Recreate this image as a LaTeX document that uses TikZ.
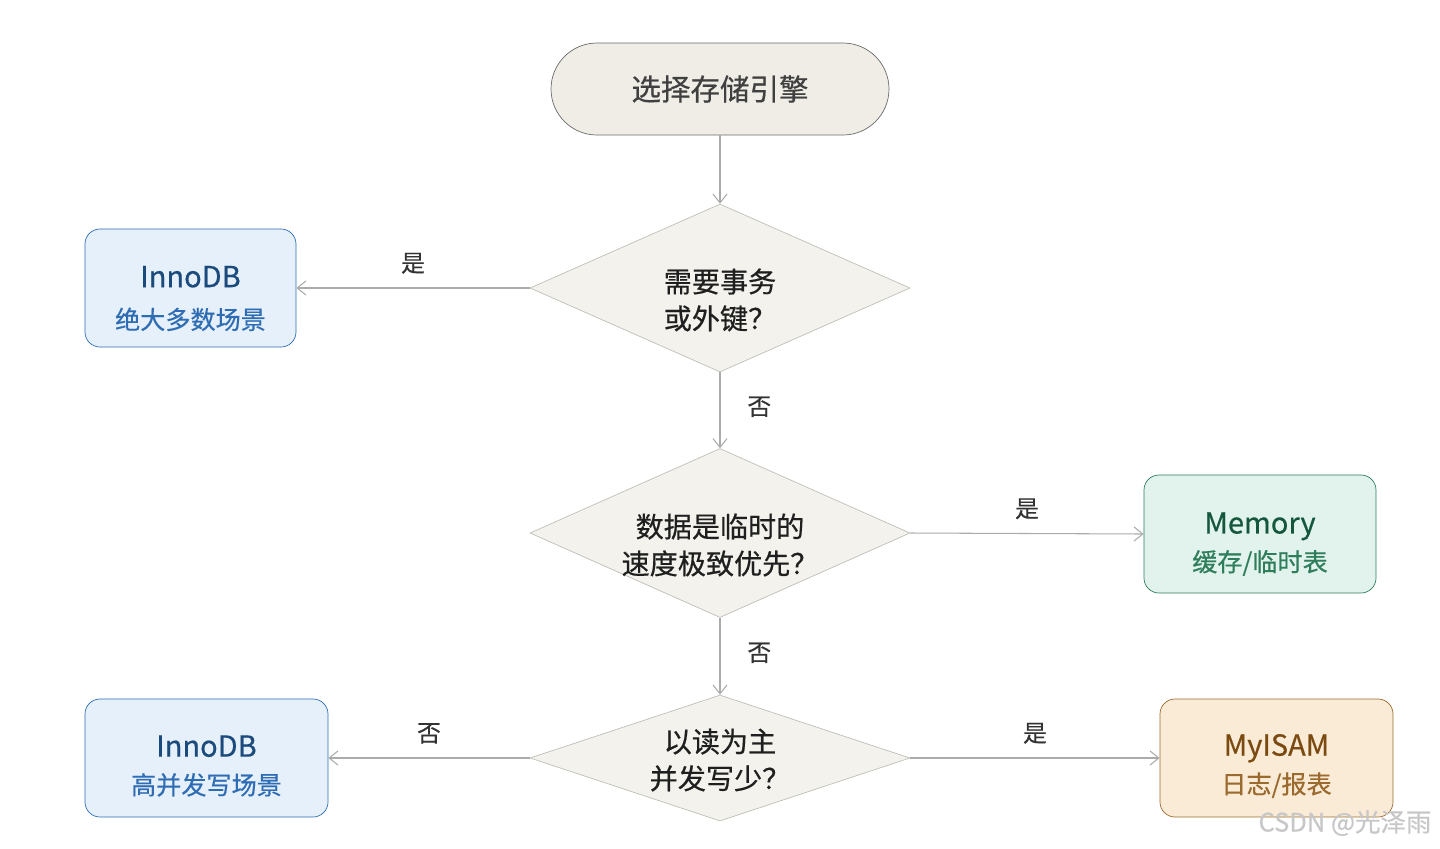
\documentclass[tikz,border=0pt]{standalone}
\usepackage{fontspec}
\setmainfont{Noto Sans CJK SC}[FakeBold=0.5]
\usepackage{tikz}
\usetikzlibrary{shapes.geometric, arrows.meta, positioning}

\definecolor{startfill}{HTML}{F0EDE6}
\definecolor{startdraw}{HTML}{6B6B6B}
\definecolor{askfill}{HTML}{F3F2EC}
\definecolor{askdraw}{HTML}{BFBFB8}
\definecolor{flowgray}{HTML}{ABABAB}
\definecolor{innofill}{HTML}{E6F0FA}
\definecolor{innodraw}{HTML}{2E6DB4}
\definecolor{innotext}{HTML}{1B4A7C}
\definecolor{memfill}{HTML}{E1F3EC}
\definecolor{memdraw}{HTML}{2E7D5B}
\definecolor{memtext}{HTML}{14573D}
\definecolor{myfill}{HTML}{FAEBD7}
\definecolor{mydraw}{HTML}{9B6A2E}
\definecolor{mytext}{HTML}{7A4A10}

% engine name on top, use case below
\newcommand{\boxtext}[3]{{\color{#1}\fontsize{16.5}{22}\selectfont #2}\\{#3}}

\tikzset{
	startbox/.style={draw=startdraw, fill=startfill, rounded corners=0.92cm, minimum width=6.76cm, minimum height=1.84cm, font=\fontsize{16.8}{20}\selectfont, text=black!75},
	question/.style={diamond, draw=askdraw, fill=askfill, inner sep=0pt, minimum width=7.6cm},
	asktext/.style={align=center, font=\fontsize{16}{21}\selectfont, text=black!88},
	result/.style={rounded corners=0.3cm, minimum height=2.36cm},
	resulttext/.style={align=center, font=\fontsize{14.3}{21.5}\selectfont},
	flow/.style={draw=flowgray, line width=0.6pt, -{Straight Barb[length=5pt,width=8pt]}},
	yesno/.style={font=\fontsize{13.5}{16}\selectfont, text=black!80}
}

\begin{document}
\begin{tikzpicture}
	\useasboundingbox (0,0) rectangle (28.8,-16.96);
	% start
	\node[startbox] (start) at (14.4,-1.78) {选择存储引擎};
	% questions
	\node[question, aspect=2.26, minimum height=3.36cm] (trans) at (14.4,-5.76) {};
	\node[question, aspect=2.25, minimum height=3.38cm] (temp) at (14.4,-10.66) {};
	\node[question, aspect=3.02, minimum height=2.52cm] (read) at (14.4,-15.16) {};
	\node[asktext] (trans-txt) at ([yshift=-0.24cm]trans.center) {需要事务\\或外键？};
	\node[asktext] (temp-txt) at ([yshift=-0.24cm]temp.center) {数据是临时的\\速度极致优先？};
	\node[asktext] (read-txt) at ([yshift=-0.04cm]read.center) {以读为主\\并发写少？};
	% results
	\node[result, draw=innodraw, fill=innofill, minimum width=4.22cm] (innoA) at (3.81,-5.76) {};
	\node[result, draw=memdraw, fill=memfill, minimum width=4.64cm] (mem) at (25.2,-10.68) {};
	\node[result, draw=innodraw, fill=innofill, minimum width=4.86cm] (innoB) at (4.13,-15.16) {};
	\node[result, draw=mydraw, fill=myfill, minimum width=4.66cm] (myisam) at (25.53,-15.16) {};
	\node[resulttext, text=innodraw, font=\fontsize{14.3}{23.8}\selectfont] (innoA-txt) at ([yshift=-0.21cm]innoA.center) {\boxtext{innotext}{InnoDB}{绝大多数场景}};
	\node[resulttext, text=memdraw] (mem-txt) at ([yshift=-0.2cm]mem.center) {\boxtext{memtext}{Memory}{缓存/临时表}};
	\node[resulttext, text=innodraw] (innoB-txt) at ([yshift=-0.16cm]innoB.center) {\boxtext{innotext}{InnoDB}{高并发写场景}};
	\node[resulttext, text=mydraw] (myisam-txt) at ([yshift=-0.16cm]myisam.center) {\boxtext{mytext}{MyISAM}{日志/报表}};
	% connectors
	\draw[flow] (start) -- (trans);
	\draw[flow] (trans.west) -- node[yesno, above=4.5pt] {是} (innoA.east);
	\draw[flow] (trans.south) -- node[yesno, right=12pt, yshift=2pt] {否} (temp.north);
	\draw[flow] (temp.east) -- node[yesno, above=4.5pt] {是} (mem.west);
	\draw[flow] (temp.south) -- node[yesno, right=12pt, yshift=2pt] {否} (read.north);
	\draw[flow] (read.west) -- node[yesno, above=4.5pt] {否} (innoB.east);
	\draw[flow] (read.east) -- node[yesno, above=4.5pt] {是} (myisam.west);
	% watermark
	\node[text=black!22, font=\fontsize{14.5}{16}\selectfont] (mark) at (26.9,-16.46) {CSDN @光泽雨};
\end{tikzpicture}
\end{document}
